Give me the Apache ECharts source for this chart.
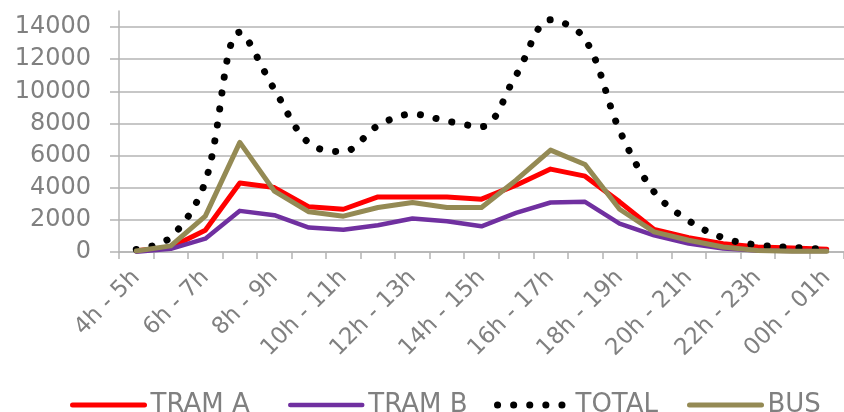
<!DOCTYPE html>
<html>
<head>
<meta charset="utf-8">
<script src="https://cdn.jsdelivr.net/npm/echarts@6/dist/echarts.min.js"></script>
<style>
html,body{margin:0;padding:0;background:#fff;}
#chart{width:844px;height:412px;}
</style>
</head>
<body>
<div id="chart"></div>
<script>
const categories = ['4h - 5h','5h - 6h','6h - 7h','7h - 8h','8h - 9h','9h - 10h','10h - 11h','11h - 12h','12h - 13h','13h - 14h','14h - 15h','15h - 16h','16h - 17h','17h - 18h','18h - 19h','19h - 20h','20h - 21h','21h - 22h','22h - 23h','23h - 00h','00h - 01h'];
const tramA = [80, 300, 1350, 4300, 4010, 2810, 2660, 3430, 3430, 3430, 3290, 4160, 5160, 4720, 3120, 1410, 890, 520, 310, 250, 170];
const tramB = [20, 200, 830, 2560, 2290, 1520, 1390, 1660, 2080, 1910, 1600, 2430, 3080, 3120, 1770, 1040, 520, 210, 100, 60, 60];
const total = [160, 920, 4380, 13680, 10120, 6780, 6250, 7860, 8580, 8150, 7800, 11000, 14450, 13250, 7570, 3740, 1950, 880, 430, 290, 170];
const bus = [60, 380, 2230, 6820, 3790, 2500, 2230, 2770, 3080, 2770, 2770, 4470, 6340, 5450, 2660, 1250, 730, 310, 100, 40, 40];
const yTicks = [0, 2000, 4000, 6000, 8000, 10000, 12000, 14000];
const seriesNames = ['TRAM A', 'TRAM B', 'TOTAL', 'BUS'];

const FONT = 'DejaVu Sans';
const GRAY = '#808080';
const LINEGRAY = '#B4B4B4';
const legendLefts = [65, 283, 489, 682];

const chart = echarts.init(document.getElementById('chart'), null, {renderer: 'canvas'});
chart.setOption({
  animation: false,
  backgroundColor: '#fff',
  grid: {left: 119, top: 11, width: 729, height: 241, containLabel: false},
  legend: seriesNames.map((n, i) => ({
    left: legendLefts[i], top: 387,
    itemWidth: 72, itemHeight: 10, itemGap: 0,
    lineStyle: {width: 'inherit'},
    itemStyle: {opacity: 0, borderWidth: 0},
    textStyle: {fontFamily: FONT, fontSize: 26, color: GRAY, padding: [0, 0, 0, 1]},
    data: [n]
  })),
  xAxis: {
    type: 'category',
    data: categories,
    boundaryGap: true,
    axisLine: {show: true, lineStyle: {color: LINEGRAY, width: 1.5}},
    axisTick: {show: true, interval: 0, length: 7, lineStyle: {color: LINEGRAY, width: 1.5}},
    axisLabel: {interval: 1, rotate: 45, margin: 22, fontFamily: FONT, fontSize: 23, color: GRAY}
  },
  yAxis: {
    type: 'value',
    min: 0, max: 15000, interval: 2000,
    axisLine: {show: true, lineStyle: {color: LINEGRAY, width: 1.5}},
    axisTick: {show: true, length: 9, lineStyle: {color: LINEGRAY, width: 1.5}, customValues: yTicks},
    axisLabel: {margin: 28, fontFamily: FONT, fontSize: 24, color: GRAY, customValues: yTicks, formatter: v => String(v)},
    splitLine: {show: true, lineStyle: {color: LINEGRAY, width: 1.5}}
  },
  series: [
    {name: 'TRAM A', type: 'line', data: tramA, symbol: 'none', lineStyle: {color: '#FF0000', width: 5, join: 'round', cap: 'round'}, itemStyle: {color: '#FF0000'}},
    {name: 'TRAM B', type: 'line', data: tramB, symbol: 'none', lineStyle: {color: '#7030A0', width: 4.5, join: 'round', cap: 'round'}, itemStyle: {color: '#7030A0'}},
    {name: 'TOTAL', type: 'line', data: total, symbol: 'none', smooth: 0.35, lineStyle: {color: '#000000', width: 7, type: [0.1, 16], cap: 'round'}, itemStyle: {color: '#000000'}},
    {name: 'BUS', type: 'line', data: bus, symbol: 'none', lineStyle: {color: '#948A54', width: 5, join: 'round', cap: 'round'}, itemStyle: {color: '#948A54'}}
  ]
});
</script>
</body>
</html>
